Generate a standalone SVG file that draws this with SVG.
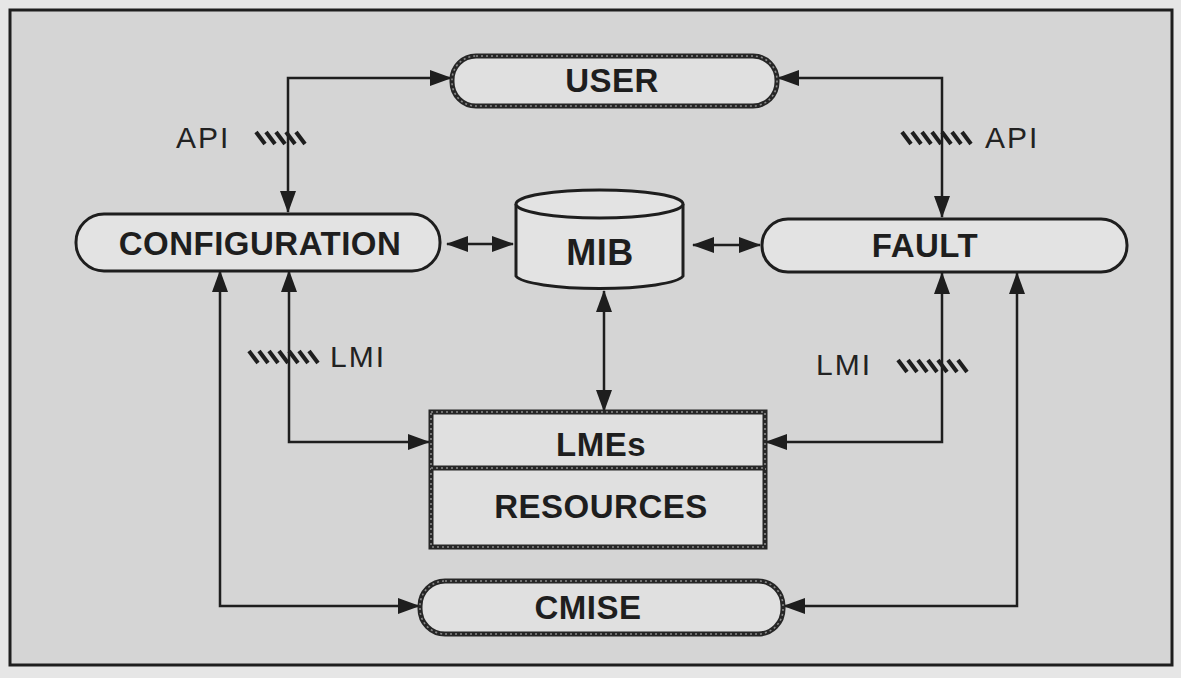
<svg xmlns="http://www.w3.org/2000/svg" width="1181" height="678" viewBox="0 0 1181 678">
  <defs>
    <style>
      .lbl { font-family: "Liberation Sans", Arial, sans-serif; font-weight: bold; font-size: 33px; fill: #1e1e1e; text-anchor: middle; letter-spacing: 0.5px; }
      .tag { font-family: "Liberation Sans", Arial, sans-serif; font-size: 30px; fill: #222; letter-spacing: 2px; }
      .solid { fill: #e3e3e3; stroke: #1e1e1e; stroke-width: 3; }
      .rope { fill: #e0e0e0; stroke: #262626; stroke-width: 5; }
      .rope-twist { fill: none; stroke: #8a8a8a; stroke-width: 1.6; stroke-dasharray: 2 3; }
      .conn { fill: none; stroke: #1e1e1e; stroke-width: 2.5; marker-start: url(#arr); marker-end: url(#arr); }
      .hatch line { stroke: #1e1e1e; stroke-width: 4; stroke-linecap: butt; }
    </style>
    <marker id="arr" viewBox="0 0 22 16" refX="21" refY="8" markerWidth="22" markerHeight="16" markerUnits="userSpaceOnUse" orient="auto-start-reverse">
      <path d="M0,0 L22,8 L0,16 Z" fill="#1e1e1e"/>
    </marker>
    <!-- diagonal stripe patches marking an interface -->
    <g id="hatch5" class="hatch">
      <line x1="0" y1="1" x2="9" y2="13"/>
      <line x1="10" y1="1" x2="19" y2="13"/>
      <line x1="20" y1="1" x2="29" y2="13"/>
      <line x1="30" y1="1" x2="39" y2="13"/>
      <line x1="40" y1="1" x2="49" y2="13"/>
    </g>
    <g id="hatch7" class="hatch">
      <line x1="0" y1="1" x2="9" y2="13"/>
      <line x1="10" y1="1" x2="19" y2="13"/>
      <line x1="20" y1="1" x2="29" y2="13"/>
      <line x1="30" y1="1" x2="39" y2="13"/>
      <line x1="40" y1="1" x2="49" y2="13"/>
      <line x1="50" y1="1" x2="59" y2="13"/>
      <line x1="60" y1="1" x2="69" y2="13"/>
    </g>
  </defs>

  <!-- page and frame -->
  <rect x="0" y="0" width="1181" height="678" fill="#e6e6e6"/>
  <rect x="10" y="10" width="1162" height="655" fill="#d5d5d5" stroke="#1e1e1e" stroke-width="3"/>

  <!-- connectors -->
  <g id="connectors">
    <path class="conn" d="M288,212 V78 H451"/>
    <path class="conn" d="M778,78 H942 V217"/>
    <path class="conn" d="M447,244 H513"/>
    <path class="conn" d="M693,245 H760"/>
    <path class="conn" d="M604,291 V411"/>
    <path class="conn" d="M289,271 V442 H429"/>
    <path class="conn" d="M220,271 V606 H419"/>
    <path class="conn" d="M942,273 V442 H766"/>
    <path class="conn" d="M1017,273 V606 H784"/>
  </g>

  <!-- interface tags -->
  <g id="api-left">
    <use href="#hatch5" x="256" y="131"/>
    <text class="tag" x="176" y="148">API</text>
  </g>
  <g id="api-right">
    <use href="#hatch7" x="902" y="131"/>
    <text class="tag" x="985" y="148">API</text>
  </g>
  <g id="lmi-left">
    <use href="#hatch7" x="249" y="350"/>
    <text class="tag" x="330" y="367">LMI</text>
  </g>
  <g id="lmi-right">
    <use href="#hatch7" x="898" y="359"/>
    <text class="tag" x="816" y="375">LMI</text>
  </g>

  <!-- nodes -->
  <g id="user">
    <rect class="rope" x="452" y="56" width="325" height="50" rx="24"/>
    <rect class="rope-twist" x="452" y="56" width="325" height="50" rx="24"/>
    <text class="lbl" x="612" y="92">USER</text>
  </g>

  <g id="configuration">
    <rect class="solid" x="76" y="214" width="364" height="57" rx="28"/>
    <text class="lbl" x="260" y="255">CONFIGURATION</text>
  </g>

  <g id="mib">
    <path class="solid" d="M516,204 V276 A84,14 0 0 0 683,276 V204"/>
    <ellipse class="solid" cx="599.5" cy="204" rx="83.5" ry="14"/>
    <text class="lbl" x="600" y="265" style="font-size:36px">MIB</text>
  </g>

  <g id="fault">
    <rect class="solid" x="762" y="219" width="365" height="53" rx="26"/>
    <text class="lbl" x="925" y="257">FAULT</text>
  </g>

  <g id="lmes">
    <rect class="rope" x="431" y="412" width="334" height="135"/>
    <rect class="rope-twist" x="431" y="412" width="334" height="135"/>
    <line x1="431" y1="468" x2="765" y2="468" stroke="#262626" stroke-width="5"/>
    <line x1="431" y1="468" x2="765" y2="468" class="rope-twist"/>
    <text class="lbl" x="601" y="456">LMEs</text>
    <text class="lbl" x="601" y="518">RESOURCES</text>
  </g>

  <g id="cmise">
    <rect class="rope" x="420" y="581" width="363" height="53" rx="25"/>
    <rect class="rope-twist" x="420" y="581" width="363" height="53" rx="25"/>
    <text class="lbl" x="588" y="619">CMISE</text>
  </g>
</svg>
